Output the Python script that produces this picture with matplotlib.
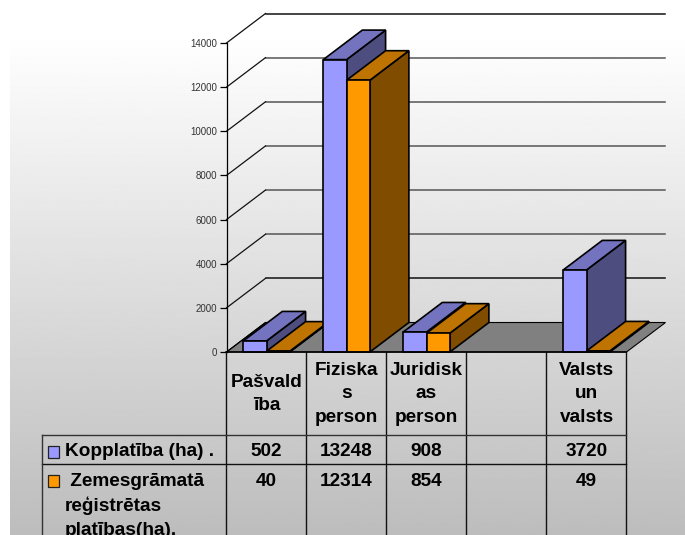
import numpy as np
import matplotlib.pyplot as plt
from matplotlib.patches import Polygon, Rectangle

categories = ['Pašvald\nība', 'Fiziska\ns\nperson', 'Juridisk\nas\nperson', '', 'Valsts\nun\nvalsts']
kopplatiba = [502, 13248, 908, None, 3720]
zemesgramata = [40, 12314, 854, None, 49]
yticks = [0, 2000, 4000, 6000, 8000, 10000, 12000, 14000]
series_names = ['Kopplatība (ha) .', ' Zemesgrāmatā\nreģistrētas\nplatības(ha).']

purple = ['#9999ff', '#7373bf', '#4d4d80']
orange = ['#ff9900', '#bf7300', '#804d00']

W, H = 685, 535
plt.rcParams['font.family'] = ['Liberation Sans', 'DejaVu Sans']

fig = plt.figure(figsize=(W / 100, H / 100), dpi=100)

# background gradient, starts a little below the top edge
bg = fig.add_axes([10 / W, 0, (W - 10) / W, 1 - 33 / H])
bg.imshow(np.linspace(1, 0.74, 256).reshape(-1, 1), cmap='gray', vmin=0, vmax=1, aspect='auto')
bg.axis('off')

# plot area in data units, 5 categories wide
ax = fig.add_axes([226.5 / W, 1 - 352 / H, 400 / W, 309 / H])
ax.set_xlim(0, 5)
ax.set_ylim(0, 14000)
ax.patch.set_alpha(0)
for s in ['top', 'right', 'bottom']:
    ax.spines[s].set_visible(False)
ax.spines['left'].set_linewidth(0.9)
ax.set_xticks([])
ax.set_yticks(yticks)
ax.tick_params(axis='y', length=5, width=0.9, pad=1.5, labelsize=7, labelcolor='#333333')

depth_x = 39 / 80
depth_y = 29.5 / 309 * 14000

# floor
ax.add_patch(Polygon([(0, 0), (5, 0), (5 + depth_x, depth_y), (depth_x, depth_y)],
                     fc='#808080', ec='black', lw=0.8, clip_on=False, zorder=1))

# walls
for t in yticks[1:]:
    c = '#111111' if t in (2000, 14000) else '#555555'
    ax.plot([depth_x, 5 + depth_x], [t + depth_y, t + depth_y], color=c, lw=1.1, clip_on=False, zorder=1)
    ax.plot([0, depth_x], [t, t + depth_y], color='#111111', lw=0.9, clip_on=False, zorder=1)
ax.plot([0, depth_x], [0, depth_y], color='black', lw=0.8, clip_on=False, zorder=2)


def bar3d(x0, w, v, cols, z):
    x1 = x0 + w
    ax.add_patch(Polygon([(x1, 0), (x1 + depth_x, depth_y), (x1 + depth_x, v + depth_y), (x1, v)],
                         fc=cols[2], ec='black', lw=1.2, clip_on=False, zorder=z))
    ax.add_patch(Polygon([(x0, v), (x1, v), (x1 + depth_x, v + depth_y), (x0 + depth_x, v + depth_y)],
                         fc=cols[1], ec='black', lw=1.2, clip_on=False, zorder=z))
    ax.add_patch(Rectangle((x0, 0), w, v, fc=cols[0], ec='black', lw=1.2, clip_on=False, zorder=z))


bar_w = 23.3 / 80
gap = 16.8 / 80
z = 3
for i in range(len(categories)):
    if kopplatiba[i] is None:
        continue
    bar3d(i + gap, bar_w, kopplatiba[i], purple, z)
    bar3d(i + gap + bar_w, bar_w, zemesgramata[i], orange, z + 1)
    z += 2

# data table in pixel coordinates
tb = fig.add_axes([0, 0, 1, 1])
tb.set_xlim(0, W)
tb.set_ylim(H, 0)
tb.axis('off')

edges = [226.5 + 80 * i for i in range(6)]
for x in edges:
    tb.plot([x, x], [352, H], color='#111111', lw=1)
tb.plot([226.5, 626.5], [352, 352], color='black', lw=1.1)
tb.plot([42.5, 626.5], [434.5, 434.5], color='#333333', lw=1)
tb.plot([42.5, 626.5], [463.5, 463.5], color='#111111', lw=1)
tb.plot([42.5, 42.5], [434.5, H], color='#333333', lw=1)

fs = 13.7
for i, c in enumerate(categories):
    cx = edges[i] + 40
    tb.text(cx, 394, c, ha='center', va='center', fontsize=fs, fontweight='bold', linespacing=1.52)
    if kopplatiba[i] is not None:
        tb.text(cx, 451, str(kopplatiba[i]), ha='center', va='center', fontsize=fs, fontweight='bold')
        tb.text(cx, 481, str(zemesgramata[i]), ha='center', va='center', fontsize=fs, fontweight='bold')

# legend keys and series names
tb.add_patch(Rectangle((48, 446), 11.5, 11.5, fc=purple[0], ec='#222222', lw=0.9))
tb.add_patch(Rectangle((48, 475), 11.5, 11.5, fc=orange[0], ec='#222222', lw=0.9))
tb.text(65, 452, series_names[0], va='center', fontsize=fs, fontweight='bold')
for j, line in enumerate(series_names[1].split('\n')):
    tb.text(65, 481.5 + 24.5 * j, line, va='center', fontsize=fs, fontweight='bold')

fig.savefig('out.png', dpi=100)
plt.close()
